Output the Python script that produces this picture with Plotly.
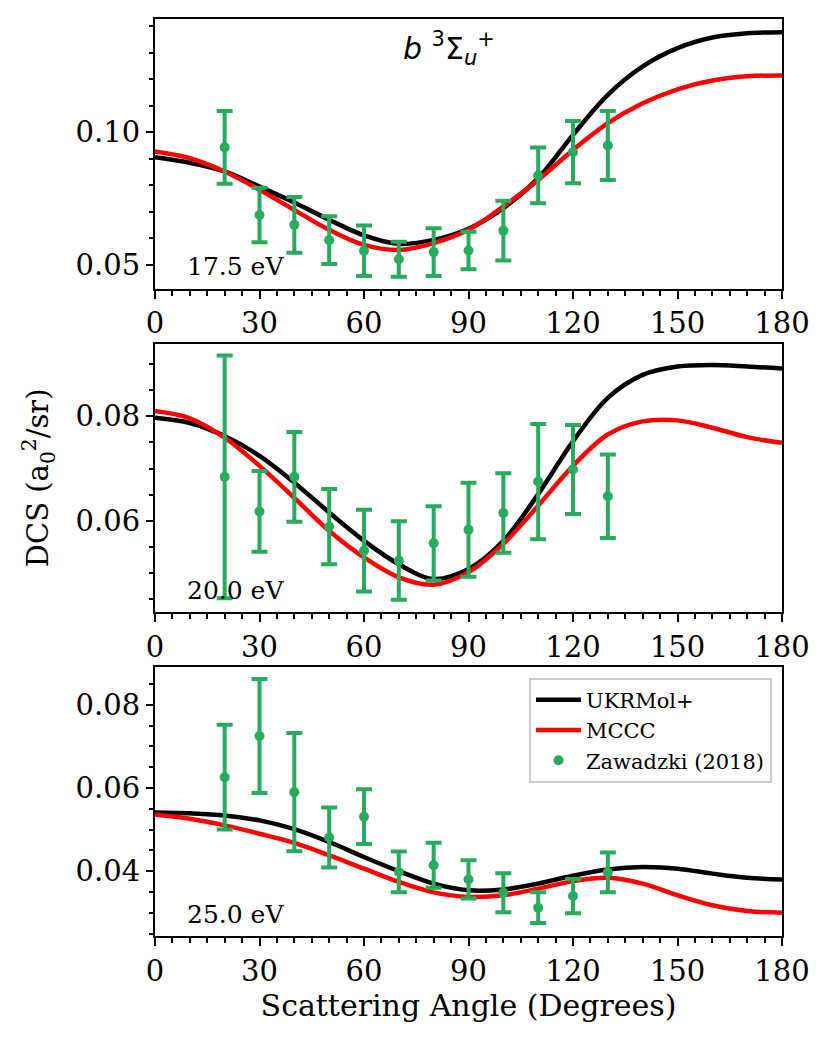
import plotly.graph_objects as go
from plotly.subplots import make_subplots

# theory curves, sampled every 10 degrees
angles = [0, 10, 20, 30, 40, 50, 60, 70, 80, 90, 100, 110, 120, 130, 140, 150, 160, 170, 180]

ukrmol_175 = [0.0906, 0.0885, 0.0852, 0.0795, 0.0735, 0.0670, 0.0611, 0.0579, 0.0594, 0.0636,
              0.0714, 0.0827, 0.0990, 0.1141, 0.1248, 0.1317, 0.1357, 0.1373, 0.1377]
mccc_175 = [0.0927, 0.0902, 0.0852, 0.0783, 0.0707, 0.0632, 0.0575, 0.0556, 0.0582, 0.0632,
            0.0720, 0.0820, 0.0933, 0.1034, 0.1109, 0.1162, 0.1195, 0.1211, 0.1214]

ukrmol_200 = [0.0797, 0.0787, 0.0762, 0.0724, 0.0673, 0.0616, 0.0562, 0.0517, 0.0489, 0.0508,
              0.0562, 0.0651, 0.0752, 0.0835, 0.0879, 0.0895, 0.0898, 0.0895, 0.0891]
mccc_200 = [0.0810, 0.0796, 0.0759, 0.0705, 0.0644, 0.0581, 0.0530, 0.0492, 0.0478, 0.0502,
            0.0556, 0.0629, 0.0705, 0.0765, 0.0790, 0.0792, 0.0778, 0.0760, 0.0749]

ukrmol_250 = [0.0541, 0.0539, 0.0534, 0.0522, 0.0501, 0.0470, 0.0434, 0.0400, 0.0370, 0.0354,
              0.0356, 0.0370, 0.0389, 0.0404, 0.0410, 0.0406, 0.0394, 0.0384, 0.0380]
mccc_250 = [0.0536, 0.0526, 0.0510, 0.0490, 0.0468, 0.0438, 0.0406, 0.0374, 0.0349, 0.0338,
            0.0342, 0.0358, 0.0376, 0.0384, 0.0370, 0.0342, 0.0318, 0.0304, 0.0300]

# Zawadzki (2018) measurements
exp_angles = [20, 30, 40, 50, 60, 70, 80, 90, 100, 110, 120, 130]

exp_175 = [0.0943, 0.0688, 0.0651, 0.0593, 0.0553, 0.0521, 0.0548, 0.0554, 0.0629, 0.0837, 0.0925, 0.0950]
err_175 = [0.0137, 0.0103, 0.0105, 0.0090, 0.0095, 0.0066, 0.0090, 0.0071, 0.0113, 0.0105, 0.0117, 0.0130]

exp_200 = [0.0684, 0.0618, 0.0684, 0.0589, 0.0543, 0.0524, 0.0557, 0.0583, 0.0615, 0.0675, 0.0698, 0.0647]
err_200 = [0.0232, 0.0077, 0.0086, 0.0072, 0.0078, 0.0075, 0.0071, 0.0090, 0.0076, 0.0110, 0.0085, 0.0080]

exp_250 = [0.0626, 0.0725, 0.0590, 0.0481, 0.0531, 0.0398, 0.0414, 0.0380, 0.0348, 0.0312, 0.0340, 0.0397]
err_250 = [0.0126, 0.0137, 0.0142, 0.0072, 0.0066, 0.0049, 0.0054, 0.0046, 0.0047, 0.0037, 0.0041, 0.0048]

energies = ["17.5 eV", "20.0 eV", "25.0 eV"]
y_ranges = [[0.0410, 0.1427], [0.0425, 0.0938], [0.0244, 0.0892]]
y_major = [0.05, 0.02, 0.02]
y_minor = [0.01, 0.005, 0.005]

green = "#29ab5f"
serif = "DejaVu Serif"

panels = [
    (ukrmol_175, mccc_175, exp_175, err_175),
    (ukrmol_200, mccc_200, exp_200, err_200),
    (ukrmol_250, mccc_250, exp_250, err_250),
]

fig = make_subplots(rows=3, cols=1, vertical_spacing=0.06)

for i, (uk, mc, ex, er) in enumerate(panels):
    row = i + 1
    show = row == 3
    fig.add_trace(go.Scatter(
        x=angles, y=uk, mode="lines", name="UKRMol+",
        line=dict(color="black", width=4.5, shape="spline"),
        showlegend=show), row=row, col=1)
    fig.add_trace(go.Scatter(
        x=angles, y=mc, mode="lines", name="MCCC",
        line=dict(color="#ff0000", width=4.5, shape="spline"),
        showlegend=show), row=row, col=1)
    fig.add_trace(go.Scatter(
        x=exp_angles, y=ex, mode="markers", name="Zawadzki (2018)",
        marker=dict(color=green, size=10),
        error_y=dict(type="data", array=er, color=green, thickness=4, width=8),
        showlegend=show), row=row, col=1)

domains = [[0.7059, 1.0], [0.3529, 0.6456], [0.0, 0.2938]]
for i in range(3):
    row = i + 1
    fig.update_xaxes(
        range=[0, 180], tickvals=[0, 30, 60, 90, 120, 150, 180],
        ticks="outside", ticklen=8, tickwidth=2, tickcolor="black",
        minor=dict(dtick=5, ticks="outside", ticklen=5, tickwidth=1.5, tickcolor="black"),
        showline=True, linecolor="black", linewidth=2, mirror=True,
        showgrid=False, zeroline=False,
        tickfont=dict(family=serif, size=29, color="black"),
        row=row, col=1)
    fig.update_yaxes(
        range=y_ranges[i], dtick=y_major[i], tick0=0, tickformat=".2f",
        ticks="outside", ticklen=7, tickwidth=2, tickcolor="black",
        minor=dict(dtick=y_minor[i], tick0=0, ticks="outside", ticklen=4.5, tickwidth=1.5, tickcolor="black"),
        showline=True, linecolor="black", linewidth=2, mirror=True,
        showgrid=False, zeroline=False,
        tickfont=dict(family=serif, size=29, color="black"),
        domain=domains[i],
        row=row, col=1)
    fig.add_annotation(
        text=energies[i], xref="x domain" if i == 0 else "x%d domain" % row,
        yref="y domain" if i == 0 else "y%d domain" % row,
        x=0.048, y=0.02, xanchor="left", yanchor="bottom", showarrow=False,
        font=dict(family=serif, size=25, color="black"))

fig.update_xaxes(
    title=dict(text="Scattering Angle (Degrees)", font=dict(family=serif, size=30, color="black"), standoff=4),
    row=3, col=1)

fig.add_annotation(
    text="DCS (a<sub>0</sub><sup>2</sup>/sr)", xref="paper", yref="paper",
    x=-0.187, y=0.5, xanchor="center", yanchor="middle", textangle=-90, showarrow=False,
    font=dict(family=serif, size=29, color="black"))

fig.add_annotation(
    text="<i>b</i> <sup>3</sup>Σ<sub><i>u</i></sub><sup>+</sup>", xref="x domain", yref="y domain",
    x=0.469, y=0.89, xanchor="center", yanchor="middle", showarrow=False,
    font=dict(family="DejaVu Sans", size=30, color="black"))

fig.update_layout(
    width=815, height=1028,
    margin=dict(l=147, r=41, t=9, b=100),
    plot_bgcolor="white", paper_bgcolor="white",
    legend=dict(
        x=0.984, y=0.2818, xanchor="right", yanchor="top",
        bgcolor="rgba(255,255,255,0.8)", bordercolor="#cccccc", borderwidth=2,
        font=dict(family=serif, size=21, color="black"),
        tracegroupgap=2, itemwidth=45),
)

fig.write_html("out.html")
